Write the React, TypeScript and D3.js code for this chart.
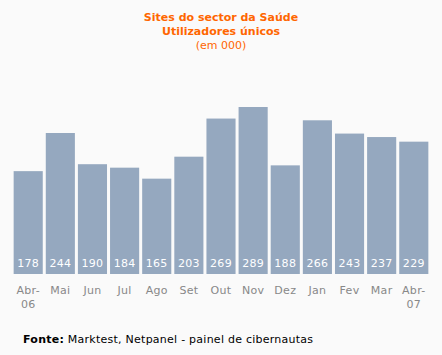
import * as d3 from 'd3';
import { useEffect, useRef } from 'react';

const months = ['Abr-|06', 'Mai', 'Jun', 'Jul', 'Ago', 'Set', 'Out', 'Nov', 'Dez', 'Jan', 'Fev', 'Mar', 'Abr-|07'];
const users = [178, 244, 190, 184, 165, 203, 269, 289, 188, 266, 243, 237, 229];
const titleLines = ['Sites do sector da Saúde', 'Utilizadores únicos'];
const subtitle = '(em 000)';

const W = 442;
const H = 355;
const FONT = 'Verdana, "DejaVu Sans", sans-serif';

export default function App() {
  const ref = useRef<SVGSVGElement>(null);

  useEffect(() => {
    const svg = d3.select(ref.current);
    svg.selectAll('*').remove();

    svg.append('rect').attr('width', W).attr('height', H).attr('fill', '#fafafa');

    const x = d3.scaleBand().domain(months).range([13, 429]).paddingInner(0.094).paddingOuter(0.02);
    const y = d3.scaleLinear().domain([0, 289]).range([274, 107]);

    const title = svg.append('g').attr('font-family', FONT).attr('text-anchor', 'middle')
      .attr('fill', '#ff6600').attr('font-size', '11px');
    titleLines.forEach((t, i) => {
      title.append('text').attr('x', 221).attr('y', 21 + i * 14).attr('font-weight', 'bold').text(t);
    });
    title.append('text').attr('x', 221).attr('y', 49).text(subtitle);

    svg.append('g').selectAll('rect').data(users).enter().append('rect')
      .attr('x', (_, i) => x(months[i])!)
      .attr('y', (d) => y(d))
      .attr('width', x.bandwidth())
      .attr('height', (d) => y(0) - y(d))
      .attr('fill', '#95a8bf');

    svg.append('g').selectAll('text').data(users).enter().append('text')
      .attr('x', (_, i) => x(months[i])! + x.bandwidth() / 2)
      .attr('y', 267)
      .attr('text-anchor', 'middle')
      .attr('font-family', FONT)
      .attr('font-size', '11px')
      .attr('letter-spacing', '0.3px')
      .attr('fill', '#ffffff')
      .text((d) => d);

    const lab = svg.append('g').attr('font-family', FONT).attr('font-size', '11px')
      .attr('fill', '#888888').attr('text-anchor', 'middle').attr('letter-spacing', '0.3px');
    months.forEach((m) => {
      const t = lab.append('text').attr('x', x(m)! + x.bandwidth() / 2).attr('y', 294);
      m.split('|').forEach((part, j) => {
        t.append('tspan').attr('x', x(m)! + x.bandwidth() / 2).attr('dy', j === 0 ? 0 : 14).text(part);
      });
    });

    const foot = svg.append('text').attr('x', 23).attr('y', 343).attr('font-family', FONT)
      .attr('font-size', '11px').attr('letter-spacing', '0.25px').attr('fill', '#000');
    foot.append('tspan').attr('font-weight', 'bold').text('Fonte:');
    foot.append('tspan').text(' Marktest, Netpanel - painel de cibernautas');
  }, []);

  return <svg ref={ref} width={W} height={H} style={{ position: 'absolute', left: 0, top: 0 }} />;
}
